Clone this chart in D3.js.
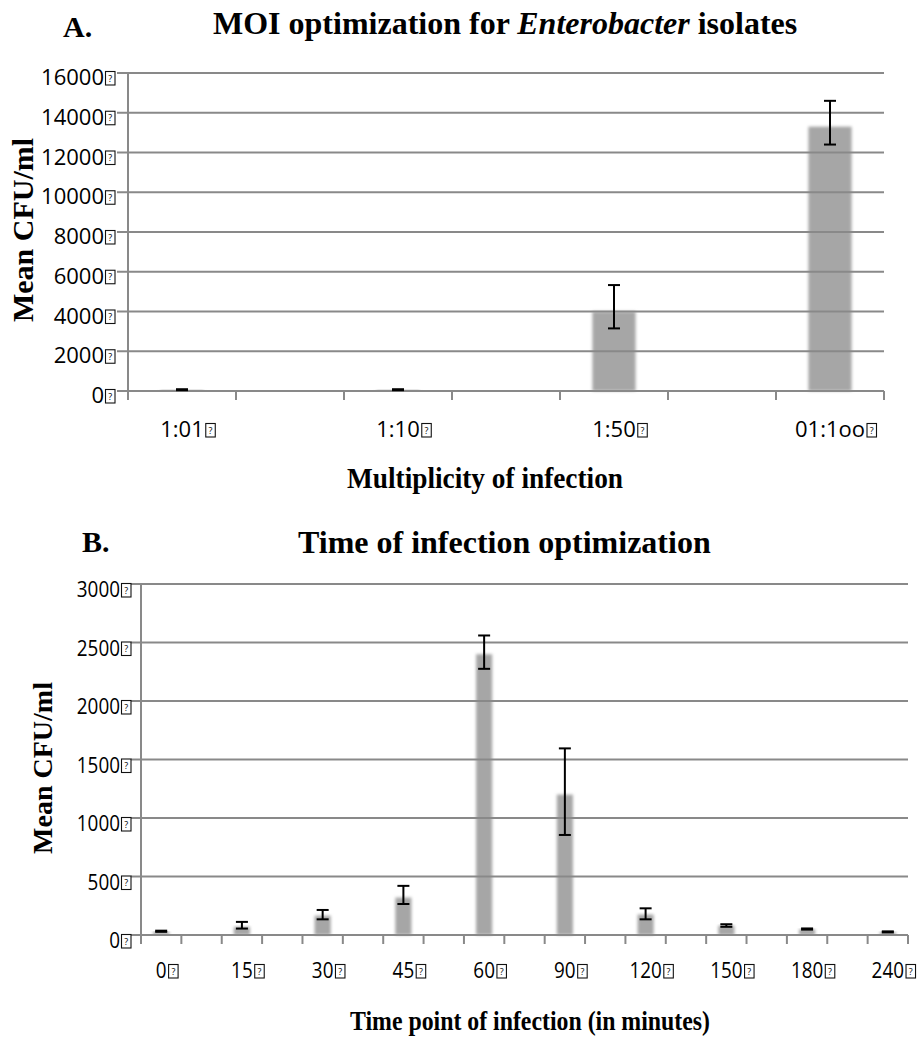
<!DOCTYPE html>
<html>
<head>
<meta charset="utf-8">
<script src="https://cdn.jsdelivr.net/npm/d3@7"></script>
<style>
  body { margin: 0; background: #fff; }
  text { fill: #000; }
</style>
</head>
<body>
<svg id="chart" width="919" height="1039"></svg>
<script>
// panel A - MOI optimization
var moiLabels = ["1:01", "1:10", "1:50", "01:1oo"];
var moiMeans = [60, 60, 4000, 13300];
var moiLow = [40, 40, 3150, 12400];
var moiHigh = [90, 90, 5330, 14600];
var moiTicks = [0, 2000, 4000, 6000, 8000, 10000, 12000, 14000, 16000];

// panel B - time of infection
var timeLabels = ["0", "15", "30", "45", "60", "90", "120", "150", "180", "240"];
var timeMeans = [30, 70, 165, 320, 2400, 1200, 175, 80, 50, 25];
var timeLow = [27, 55, 134, 265, 2275, 855, 134, 70, 46, 22];
var timeHigh = [37, 112, 214, 420, 2560, 1595, 228, 92, 56, 31];
var timeTicks = [0, 500, 1000, 1500, 2000, 2500, 3000];

var svg = d3.select("#chart");
var gridColor = "#898989";
var serif = "'Liberation Serif', 'Times New Roman', serif";
var sans = "'Open Sans', sans-serif";

var defs = svg.append("defs");
defs.append("filter")
    .attr("id", "soft")
    .attr("x", "-50%").attr("y", "-10%")
    .attr("width", "200%").attr("height", "120%")
  .append("feGaussianBlur")
    .attr("stdDeviation", 1.6);

// the little "missing glyph" box that follows every tick label
function tofu(g, x, baseline) {
    g.append("rect")
        .attr("x", x).attr("y", baseline - 13.5)
        .attr("width", 9.5).attr("height", 13.5)
        .attr("fill", "none").attr("stroke", "#111").attr("stroke-width", 1.1);
    g.append("text")
        .attr("x", x + 4.75).attr("y", baseline - 3.5)
        .attr("text-anchor", "middle")
        .style("font-family", sans).style("font-size", "9px")
        .text("?");
}

function drawPanel(o) {
    var g = svg.append("g");
    var n = o.labels.length;
    var x = d3.scaleBand()
        .domain(d3.range(2 * n - 1))
        .range([o.left, o.right]);
    var y = d3.scaleLinear()
        .domain([0, o.max])
        .range([o.bottom, o.top]);
    var step = x.step();
    var barW = step * 0.4;

    // bars (soft edges like the original)
    g.selectAll("rect.bar")
        .data(o.means)
        .enter().append("rect")
        .attr("class", "bar")
        .attr("x", function (d, i) { return x(2 * i) + (step - barW) / 2; })
        .attr("y", function (d) { return y(d); })
        .attr("width", barW)
        .attr("height", function (d) { return o.bottom - y(d); })
        .attr("fill", "#a6a6a6")
        .attr("filter", "url(#soft)");

    // gridlines
    g.selectAll("line.grid")
        .data(o.ticks.filter(function (t) { return t > 0; }))
        .enter().append("line")
        .attr("x1", o.left).attr("x2", o.right)
        .attr("y1", function (d) { return y(d); })
        .attr("y2", function (d) { return y(d); })
        .attr("stroke", gridColor).attr("stroke-width", 2);

    // y axis
    g.append("line")
        .attr("x1", o.left).attr("x2", o.left)
        .attr("y1", y(o.max) - 1).attr("y2", o.bottom + 9)
        .attr("stroke", gridColor).attr("stroke-width", 2);
    g.selectAll("line.ytick")
        .data(o.ticks)
        .enter().append("line")
        .attr("x1", o.left - o.tickLen).attr("x2", o.left)
        .attr("y1", function (d) { return y(d); })
        .attr("y2", function (d) { return y(d); })
        .attr("stroke", gridColor).attr("stroke-width", 2);

    // x axis + ticks at every slot boundary
    g.append("line")
        .attr("x1", o.left).attr("x2", o.right)
        .attr("y1", o.bottom).attr("y2", o.bottom)
        .attr("stroke", gridColor).attr("stroke-width", 2);
    var bounds = d3.range(2 * n).map(function (k) { return o.left + k * step; });
    g.selectAll("line.xtick")
        .data(bounds)
        .enter().append("line")
        .attr("x1", function (d) { return d; })
        .attr("x2", function (d) { return d; })
        .attr("y1", o.bottom).attr("y2", o.bottom + 9)
        .attr("stroke", gridColor).attr("stroke-width", 2);

    // error bars
    var cap = 6;
    o.means.forEach(function (m, i) {
        var cx = x(2 * i) + step / 2;
        var yl = y(o.low[i]), yh = y(o.high[i]);
        g.append("line").attr("x1", cx).attr("x2", cx).attr("y1", yl).attr("y2", yh)
            .attr("stroke", "#000").attr("stroke-width", 2);
        [yl, yh].forEach(function (yy) {
            g.append("line").attr("x1", cx - cap).attr("x2", cx + cap)
                .attr("y1", yy).attr("y2", yy)
                .attr("stroke", "#000").attr("stroke-width", 2);
        });
    });

    // y tick labels
    o.ticks.forEach(function (t) {
        var base = y(t) + o.labelDrop;
        g.append("text")
            .attr("transform", "translate(" + (o.left - o.labelGap) + "," + base + ") scale(" + o.sx + ",1)")
            .attr("text-anchor", "end")
            .style("font-family", sans).style("font-size", o.tickFont + "px")
            .text(t);
        tofu(g, o.left - o.labelGap + 1.5, base);
    });

    // x tick labels
    o.labels.forEach(function (lab, i) {
        var cx = x(2 * i) + step / 2;
        var base = o.bottom + o.xLabelDrop;
        var t = g.append("text")
            .attr("transform", "translate(" + cx + "," + base + ") scale(" + o.sx + ",1)")
            .attr("text-anchor", "middle")
            .style("font-family", sans).style("font-size", o.tickFont + "px")
            .text(lab);
        var w = t.node().getComputedTextLength() * o.sx;
        tofu(g, cx + w / 2 + 2, base);
    });

    // panel letter and title
    g.append("text")
        .attr("x", o.letterX).attr("y", o.letterY)
        .style("font-family", serif).style("font-size", "30px").style("font-weight", "bold")
        .text(o.letter);
    var title = g.append("text")
        .attr("x", o.titleX).attr("y", o.titleY)
        .style("font-family", serif).style("font-size", "32px").style("font-weight", "bold");
    o.title.forEach(function (part) {
        title.append("tspan")
            .style("font-style", part[1] ? "italic" : "normal")
            .text(part[0]);
    });

    // axis titles
    g.append("text")
        .attr("transform", "translate(" + o.yTitleX + "," + o.yTitleY + ") rotate(-90)")
        .attr("text-anchor", "middle")
        .style("font-family", serif).style("font-size", o.yTitleFont + "px").style("font-weight", "bold")
        .text("Mean CFU/ml");
    g.append("text")
        .attr("x", o.xTitleX - o.xTitleLen / 2).attr("y", o.xTitleY)
        .attr("textLength", o.xTitleLen)
        .attr("lengthAdjust", "spacingAndGlyphs")
        .style("font-family", serif).style("font-size", o.xTitleFont + "px").style("font-weight", "bold")
        .text(o.xTitle);
}

drawPanel({
    labels: moiLabels, means: moiMeans, low: moiLow, high: moiHigh, ticks: moiTicks,
    max: 16000, left: 128, right: 884, top: 73, bottom: 391,
    tickLen: 11, labelGap: 24, labelDrop: 12, xLabelDrop: 46, tickFont: 22, sx: 1,
    letter: "A.", letterX: 63, letterY: 37,
    title: [["MOI optimization for ", false], ["Enterobacter", true], [" isolates", false]],
    titleX: 213, titleY: 34,
    yTitleX: 33, yTitleY: 230, yTitleFont: 30,
    xTitle: "Multiplicity of infection", xTitleX: 485, xTitleY: 488, xTitleLen: 276, xTitleFont: 30
});

drawPanel({
    labels: timeLabels, means: timeMeans, low: timeLow, high: timeHigh, ticks: timeTicks,
    max: 3000, left: 141, right: 908, top: 584, bottom: 935,
    tickLen: 10, labelGap: 21, labelDrop: 13, xLabelDrop: 43, tickFont: 21, sx: 0.9,
    letter: "B.", letterX: 82, letterY: 552,
    title: [["Time of infection optimization", false]],
    titleX: 298, titleY: 553,
    yTitleX: 52, yTitleY: 768, yTitleFont: 28,
    xTitle: "Time point of infection (in minutes)", xTitleX: 530, xTitleY: 1030, xTitleLen: 360, xTitleFont: 27
});
</script>
</body>
</html>
